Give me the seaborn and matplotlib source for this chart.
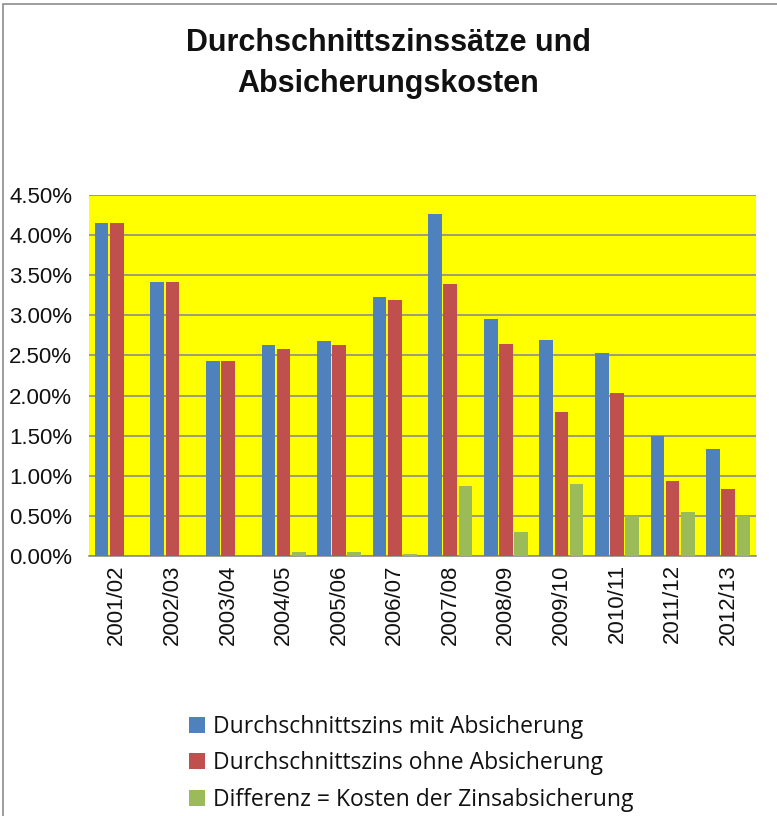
import pandas as pd
import seaborn as sns
import matplotlib.pyplot as plt
from matplotlib.patches import Rectangle
from matplotlib.ticker import FuncFormatter

# DATA (in percent)
YEARS = ["2001/02", "2002/03", "2003/04", "2004/05", "2005/06", "2006/07",
         "2007/08", "2008/09", "2009/10", "2010/11", "2011/12", "2012/13"]
MIT_ABSICHERUNG = [4.15, 3.41, 2.43, 2.63, 2.68, 3.23, 4.26, 2.95, 2.69, 2.53, 1.50, 1.33]
OHNE_ABSICHERUNG = [4.15, 3.41, 2.43, 2.58, 2.63, 3.19, 3.39, 2.64, 1.80, 2.03, 0.93, 0.83]
DIFFERENZ = [0.00, 0.00, 0.00, 0.05, 0.05, 0.03, 0.87, 0.30, 0.90, 0.50, 0.55, 0.50]

SERIES = ["Durchschnittszins mit Absicherung",
          "Durchschnittszins ohne Absicherung",
          "Differenz = Kosten der Zinsabsicherung"]
COLORS = ["#4F81BD", "#C0504D", "#9BBB59"]

AXIS_FONT = ["Liberation Sans", "DejaVu Sans"]
LEGEND_FONT = ["Open Sans", "DejaVu Sans"]
TEXT_COLOR = "#111111"


def build_frame():
    rows = []
    for name, vals in zip(SERIES, [MIT_ABSICHERUNG, OHNE_ABSICHERUNG, DIFFERENZ]):
        for year, v in zip(YEARS, vals):
            rows.append({"Jahr": year, "Serie": name, "Wert": v})
    return pd.DataFrame(rows)


def main():
    df = build_frame()
    sns.set_style("white")

    fig = plt.figure(figsize=(7.77, 8.16), dpi=100)
    ax = fig.add_axes([89 / 777, 1 - 556 / 816, (756 - 89) / 777, (556 - 195) / 816])
    ax.set_facecolor("#FFFF00")

    sns.barplot(data=df, x="Jahr", y="Wert", hue="Serie", hue_order=SERIES,
                palette=COLORS, width=0.82, gap=0.1, saturation=1,
                linewidth=0, ax=ax, zorder=3)

    ax.set_ylim(0, 4.5)
    ax.set_xlim(-0.5, len(YEARS) - 0.5)
    ax.set_yticks([i * 0.5 for i in range(10)])
    ax.yaxis.set_major_formatter(FuncFormatter(lambda v, _: f"{v:.2f}%"))
    ax.grid(axis="y", color="#8C8C8C", linewidth=1.2, zorder=1)
    ax.set_axisbelow(True)
    for side in ["left", "right", "top"]:
        ax.spines[side].set_visible(False)
    ax.spines["bottom"].set_color("#8C8C8C")
    ax.spines["bottom"].set_linewidth(1.2)
    ax.tick_params(axis="both", length=0, colors=TEXT_COLOR)
    ax.tick_params(axis="y", pad=12)
    ax.tick_params(axis="x", pad=6)
    ax.set_xlabel("")
    ax.set_ylabel("")
    for lbl in ax.get_yticklabels():
        lbl.set_family(AXIS_FONT)
        lbl.set_fontsize(16)
    for lbl in ax.get_xticklabels():
        lbl.set_family(AXIS_FONT)
        lbl.set_fontsize(16)
        lbl.set_rotation(90)

    ax.legend_.remove()
    handles, labels = ax.get_legend_handles_labels()
    leg = fig.legend(handles, labels, loc="upper left", bbox_to_anchor=(168 / 777, 1 - 694 / 816),
                     frameon=False, prop={"family": LEGEND_FONT, "size": 16.5},
                     handlelength=0.7, handleheight=0.7, handletextpad=0.35,
                     labelspacing=0.55)
    for t in leg.get_texts():
        t.set_color(TEXT_COLOR)

    fig.text(0.5, 1 - 43 / 816, "Durchschnittszinssätze und", ha="center", va="center",
             fontsize=22, fontweight="bold", family=AXIS_FONT, color=TEXT_COLOR)
    fig.text(0.5, 1 - 84 / 816, "Absicherungskosten", ha="center", va="center",
             fontsize=22, fontweight="bold", family=AXIS_FONT, color=TEXT_COLOR)

    # chart border
    fig.patches.append(Rectangle((3 / 777, -0.01), 1.0, 1 - 4 / 816 + 0.01,
                                 transform=fig.transFigure, fill=False,
                                 edgecolor="#8C8C8C", linewidth=1.2))

    fig.savefig("out.png", dpi=100, facecolor="white")


if __name__ == "__main__":
    main()
